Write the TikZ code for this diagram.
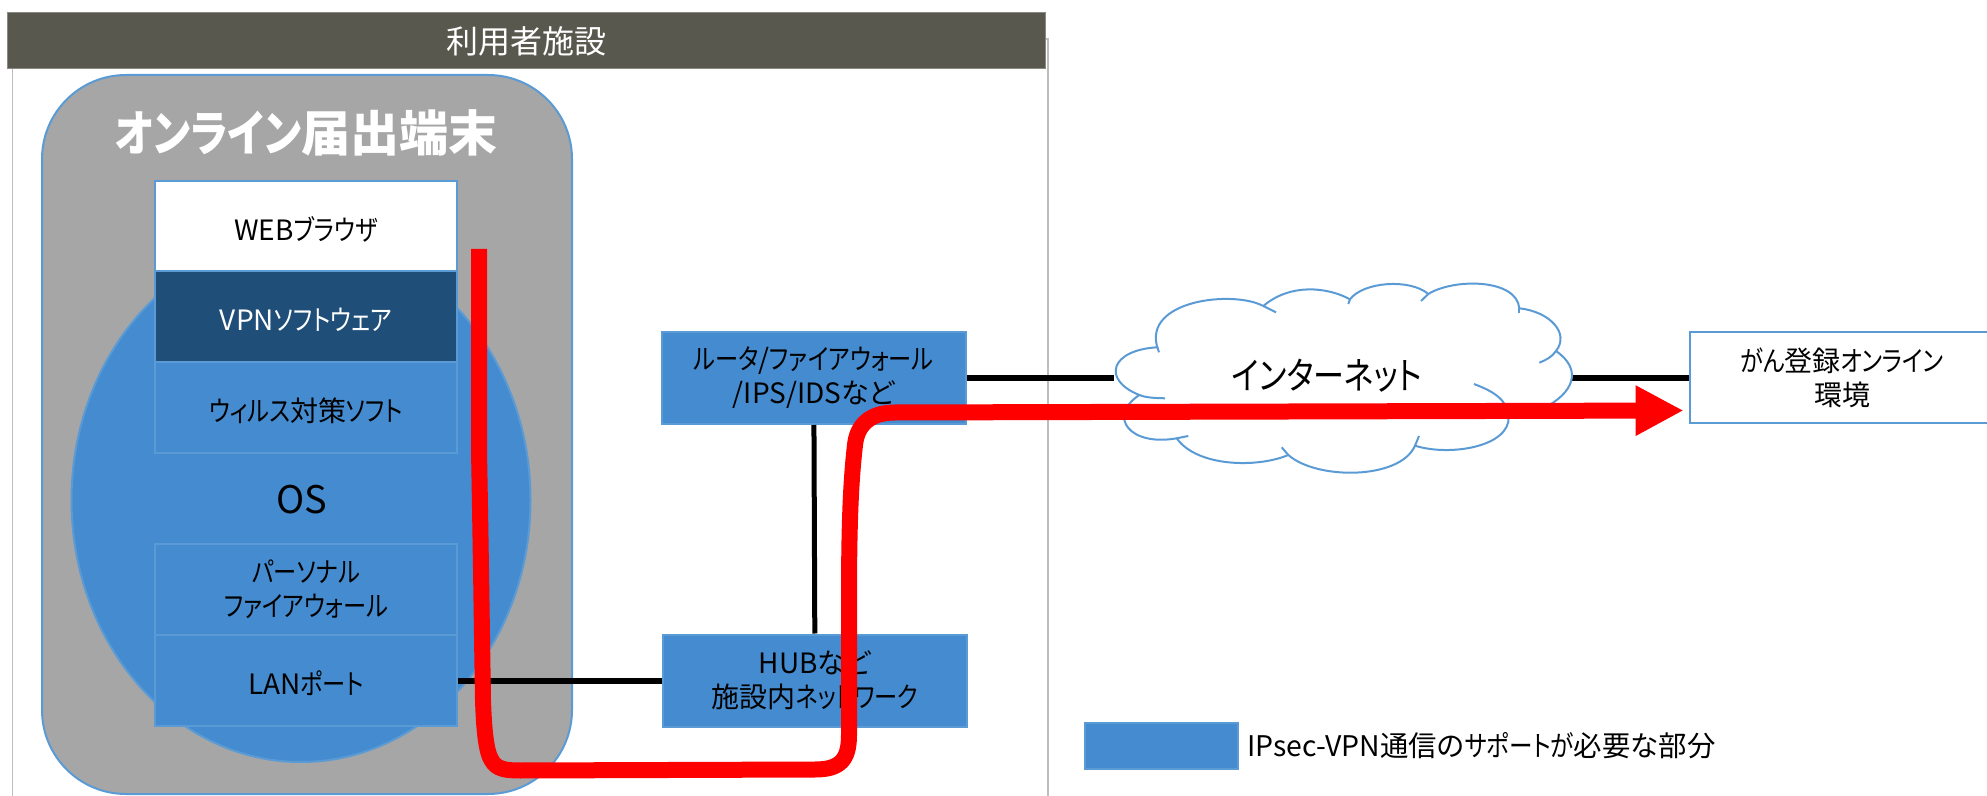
\documentclass[tikz,border=0pt]{standalone}
\usepackage{fontspec}
\setmainfont{Noto Sans CJK JP}[RawFeature=+palt]
\newfontfamily\narrowfont{Noto Sans CJK JP}[RawFeature=+palt,FakeStretch=.83]
\newcommand{\kn}[1]{{\narrowfont #1}}
\usetikzlibrary{arrows.meta,shapes.geometric}
\definecolor{barcol}{HTML}{58584E}
\definecolor{termcol}{HTML}{A6A6A6}
\definecolor{blockcol}{HTML}{458BCF}
\definecolor{edgecol}{HTML}{5B9BD5}
\definecolor{darkcol}{HTML}{1F4E79}
\definecolor{framecol}{HTML}{BDBDBD}
\tikzstyle{textsize} = [font=\fontsize{14}{17}\selectfont, align=center, inner sep=0pt]
\tikzstyle{bar} = [rectangle, fill=barcol, draw=barcol!70, line width=.5pt, text=white,
    font=\fontsize{16}{18}\selectfont, minimum width=519pt, minimum height=28pt, inner sep=0pt]
\tikzstyle{terminal} = [rectangle, fill=termcol, draw=edgecol, line width=1pt,
    rounded corners=42pt, minimum width=265pt, minimum height=359.5pt]
\tikzstyle{osshape} = [ellipse, fill=blockcol, draw=edgecol, line width=1pt,
    minimum width=229.5pt, minimum height=262pt, inner sep=0pt]
\tikzstyle{layer} = [rectangle, textsize, fill=blockcol, draw=edgecol, line width=1pt,
    minimum width=151pt, minimum height=45.5pt, execute at begin node={\rule{0pt}{14.5pt}}]
\tikzstyle{whitelayer} = [layer, fill=white]
\tikzstyle{darklayer} = [layer, fill=darkcol, text=white]
\tikzstyle{device} = [layer, minimum width=152pt, minimum height=46pt]
\tikzstyle{envbox} = [whitelayer, minimum width=152pt, minimum height=45.5pt]
\tikzstyle{legendbox} = [layer, minimum width=76.5pt, minimum height=23pt]
\tikzstyle{plain} = [textsize]
\tikzstyle{thick line} = [draw=black, line width=3pt]
\tikzstyle{thin line} = [draw=black, line width=2.5pt]
\tikzstyle{cloudline} = [draw=edgecol, line width=1pt]
\tikzstyle{route} = [draw=red, line width=8pt, line join=round,
    -{Triangle[length=24pt,width=23.5pt]}]

\begin{document}
\begin{tikzpicture}[x=.5pt,y=-.5pt]
	\useasboundingbox (0,0) rectangle (1987,796);
	\draw [framecol, line width=.7pt] (12.5,796) -- (12.5,39) -- (1048,39) -- (1048,796);
	\node [bar] (facility) at (526,41) {利用者施設};
	%
	\node [terminal] (terminal) at (307,434.5) {};
	\node [osshape] (os) at (301,500) {};
	\node [plain, text=white, font=\fontsize{24.5}{28}\bfseries\selectfont] (termtitle) at (306,133) {\kn{オンライン}届出端末};
	\node [plain, font=\fontsize{19}{22}\selectfont] (ostext) at (301.5,500) {OS};
	%
	\node [whitelayer] (browser) at (306,226.5) {WEB\kn{ブラウザ}};
	\node [darklayer] (vpn) at (306,317) {VPN\kn{ソフトウェア}};
	\node [layer] (virus) at (306,408) {\kn{ウィルス}対策\kn{ソフト}};
	\node [layer] (pfw) at (306,589.5) {\kn{パーソナル}\\\kn{ファイアウォール}};
	\node [layer] (lan) at (306,680.5) {LAN\kn{ポート}};
	%
	\node [device] (router) at (813.75,378) {\kn{ルータ}/\kn{ファイアウォール}\\/IPS/IDSなど};
	\node [device] (hub) at (815,680.5) {HUBなど\\施設内\kn{ネットワーク}};
	\node [envbox] (env) at (1842,378) {\kn{がん}登録\kn{オンライン}\\環境};
	\node [minimum width=227.5pt, minimum height=95pt, inner sep=0pt] (net) at (1342.25,378) {};
	%
	\draw [thick line] (lan) -- (hub);
	\draw [thin line] (router) -- (hub);
	\draw [thick line] (router) -- (net);
	\draw [thick line] (net) -- (env);
	%
	\draw [cloudline, fill=white] (1157.3,347.3)
		.. controls (1143.3,300) and (1233.3,290) .. (1263.3,306)
		.. controls (1290,283.3) and (1326.7,286.7) .. (1350,299.3)
		.. controls (1363.3,281.7) and (1410,278.3) .. (1428.3,294)
		.. controls (1453.3,278.3) and (1516.7,278.3) .. (1519.3,308.3)
		.. controls (1550,311.7) and (1570,333.3) .. (1556,351)
		.. controls (1583.3,370) and (1573.3,393.3) .. (1543.3,408.3)
		-- (1508.7,416.7)
		.. controls (1510,446.7) and (1450,456.7) .. (1415,445.7)
		.. controls (1400,480) and (1316.7,480) .. (1288.3,455)
		.. controls (1256.7,468.3) and (1196.7,466.7) .. (1176.7,438.3)
		.. controls (1130,446.7) and (1106.7,416.7) .. (1139.3,395)
		.. controls (1101.7,380) and (1110,350) .. (1157.3,347.3) -- cycle;
	\draw [cloudline] (1157.3,347.3) -- (1159,352.3);
	\draw [cloudline] (1263.3,306) -- (1276,312.3);
	\draw [cloudline] (1350,299.3) -- (1348.3,304);
	\draw [cloudline] (1428.3,294) -- (1421,301);
	\draw [cloudline] (1519.3,308.3) -- (1519.3,312.7);
	\draw [cloudline] (1556,351) .. controls (1552,357) and (1546,360) .. (1539.3,362.7);
	\draw [cloudline] (1508.7,416.7) .. controls (1507,400) and (1495,392) .. (1474,384);
	\draw [cloudline] (1415,445.7) -- (1419,436);
	\draw [cloudline] (1288.3,455) -- (1281.7,447.3);
	\draw [cloudline] (1176.7,438.3) -- (1188.3,436);
	\draw [cloudline] (1139.3,395) .. controls (1147,398) and (1156,398) .. (1165,398.3);
	\node [plain, font=\fontsize{18.7}{22}\selectfont] (nettext) at (1327,376) {\kn{インターネット}};
	%
	\node [legendbox] (legend) at (1161.5,745.75) {};
	\node [plain, anchor=west, font=\fontsize{14.2}{17}\selectfont] (legendtext) at (1247,746) {IPsec-VPN通信の\kn{サポートが}必要な部分};
	%
	\coordinate (routestart) at (479,249);
	\coordinate (routeend) at (1683.6,410.5);
	\draw [route] (routestart) -- (479,450)
		.. controls (481,560) and (482,640) .. (483,700)
		.. controls (484,730) and (486,752) .. (492,761)
		.. controls (497,769) and (505,770.5) .. (520,770.5)
		-- (815,769.5)
		.. controls (840,769.5) and (849,760) .. (849,735)
		-- (849,600)
		.. controls (849,520) and (851,480) .. (855,445)
		.. controls (857,425) and (870,412.5) .. (895,412.5)
		-- (routeend);
\end{tikzpicture}
\end{document}
